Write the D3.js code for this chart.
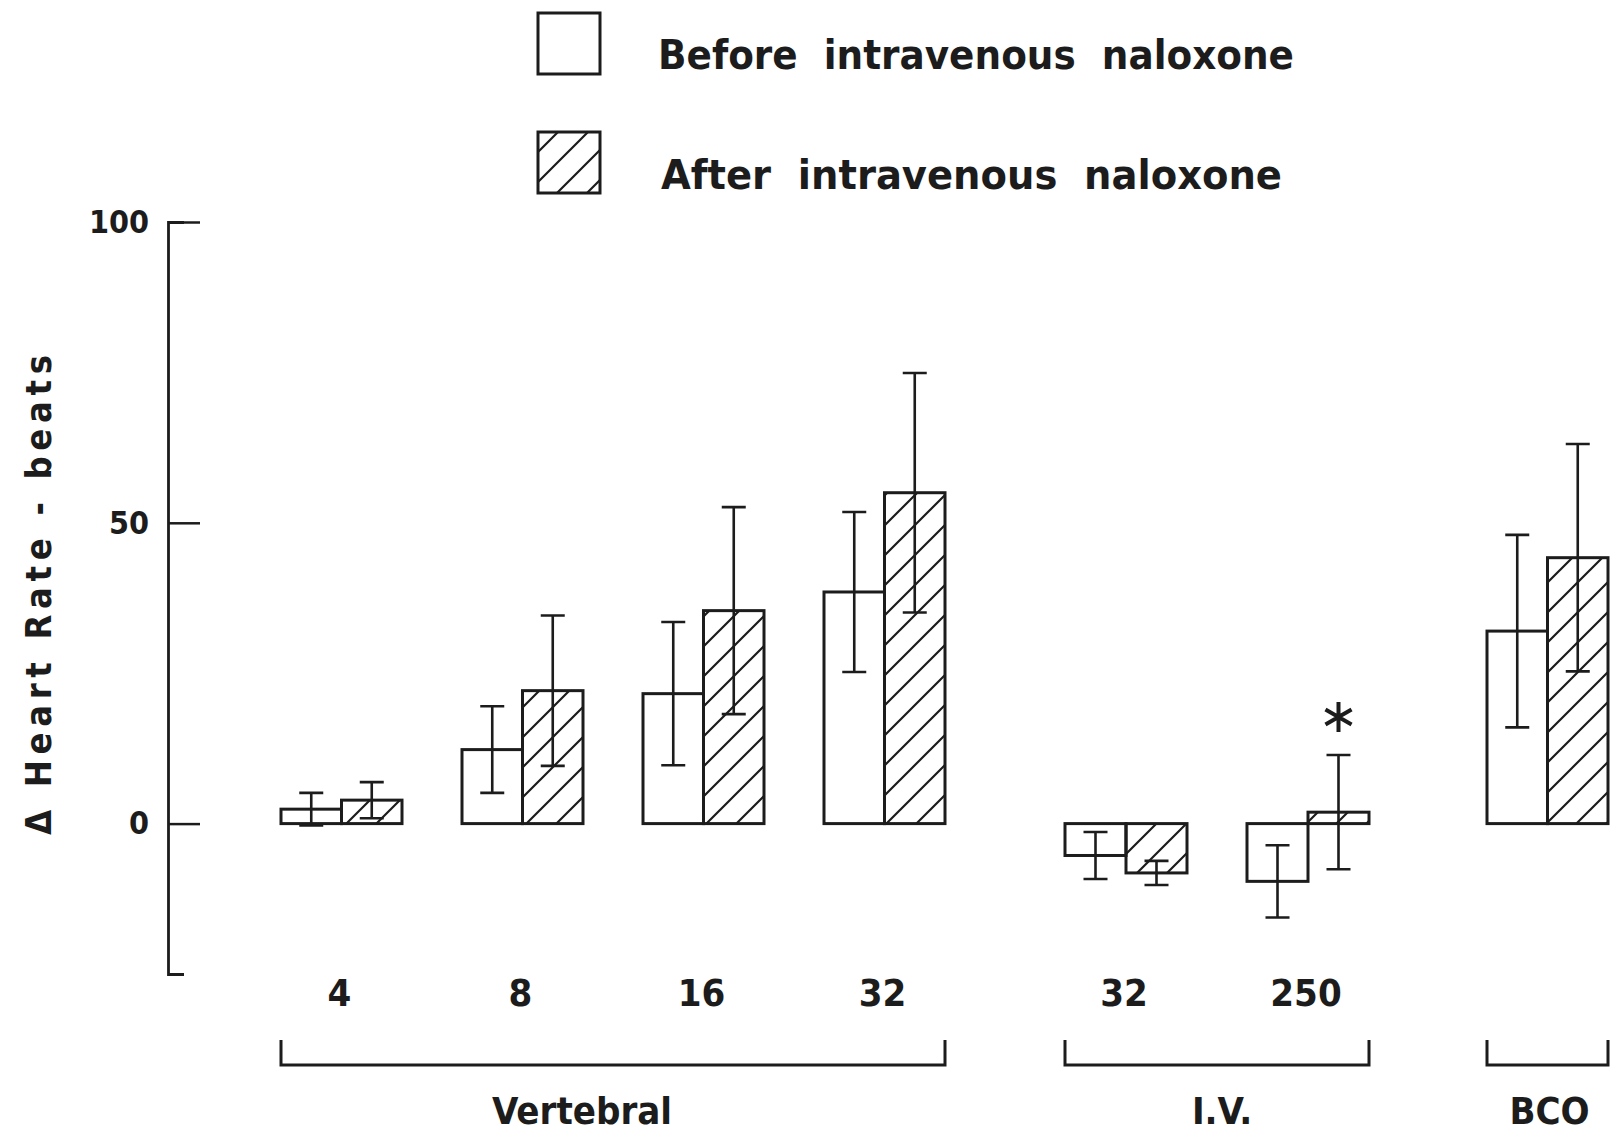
<!DOCTYPE html>
<html>
<head>
<meta charset="utf-8">
<script src="https://cdn.jsdelivr.net/npm/d3@7"></script>
<style>
  html, body { margin: 0; padding: 0; background: #fff; }
  svg { display: block; }
  text {
    font-family: 'Liberation Sans Narrow', 'DejaVu Sans Condensed', 'Arial Narrow', sans-serif;
    font-weight: bold;
    fill: #1c1c1c;
  }
</style>
</head>
<body>
<svg id="chart" width="1613" height="1134"></svg>
<script>
// ---- data ----
const doses      = ["4", "8", "16", "32", "32", "250", ""];
const routes     = ["Vertebral", "Vertebral", "Vertebral", "Vertebral", "I.V.", "I.V.", "BCO"];
const sections   = ["Vertebral", "I.V.", "BCO"];
const beforeMean = [2.4, 12.3, 21.6, 38.5, -5.3, -9.6, 32.0];
const beforeSE   = [2.7, 7.2, 11.9, 13.3, 3.9, 6.0, 16.0];
const afterMean  = [3.9, 22.1, 35.4, 55.0, -8.2, 1.9, 44.2];
const afterSE    = [3.0, 12.5, 17.2, 19.9, 2.0, 9.5, 18.9];
const afterSignificant = [false, false, false, false, false, true, false];
const seriesNames = ["Before  intravenous  naloxone", "After  intravenous  naloxone"];
const yTicks     = [0, 50, 100];
const yLabel     = "\u0394 Heart Rate - beats";

// ---- layout ----
const svg = d3.select("#chart");
const ink = "#1c1c1c";
const axisX = 168;
const y = d3.scaleLinear().domain([-25, 100]).range([974, 222]);

// horizontal extent of each route section (bracket span)
const sectionRange = { "Vertebral": [281, 945], "I.V.": [1065, 1369], "BCO": [1487, 1608] };
const sectionLabelShift = { "Vertebral": -31, "I.V.": 5, "BCO": 2 };
const groupGap = 60;

const groups = doses.map((d, i) => ({
  i, dose: d, route: routes[i],
  series: [
    { key: "before", mean: beforeMean[i], se: beforeSE[i], sig: false },
    { key: "after",  mean: afterMean[i],  se: afterSE[i],  sig: afterSignificant[i] }
  ]
}));

// one band scale per section; each step holds a group plus the gap after it
const sectionScales = {};
sections.forEach(s => {
  const ids = groups.filter(g => g.route === s).map(g => g.i);
  const [x0, x1] = sectionRange[s];
  sectionScales[s] = d3.scaleBand().domain(ids).range([x0, x1 + groupGap]).padding(0);
});
const groupX = g => sectionScales[g.route](g.i);
const groupW = g => sectionScales[g.route].step() - groupGap;

// ---- hatch pattern ----
const defs = svg.append("defs");
const pat = defs.append("pattern").attr("id", "hatch")
  .attr("patternUnits", "userSpaceOnUse").attr("width", 30).attr("height", 30);
pat.append("path")
  .attr("d", "M-6,6 L6,-6 M0,30 L30,0 M24,36 L36,24")
  .attr("stroke", ink).attr("stroke-width", 2.2).attr("fill", "none");

// ---- y axis ----
const yAxis = d3.axisLeft(y).tickValues(yTicks)
  .tickSizeInner(-32).tickSizeOuter(-16).tickPadding(19)
  .tickFormat(d3.format("d"));
const gy = svg.append("g").attr("transform", `translate(${axisX},0)`).call(yAxis);
gy.select(".domain").attr("stroke", ink).attr("stroke-width", 2.8).attr("fill", "none");
gy.selectAll(".tick line").attr("stroke", ink).attr("stroke-width", 2.5);
gy.selectAll(".tick text").attr("font-size", 32)
  .style("font-family", "'Liberation Sans Narrow','DejaVu Sans Condensed',sans-serif")
  .style("font-weight", "bold").attr("fill", ink);
gy.attr("font-family", null).attr("font-size", null);

svg.append("text")
  .attr("transform", `translate(51,595) rotate(-90)`)
  .attr("text-anchor", "middle")
  .attr("font-size", 36)
  .attr("textLength", 480).attr("lengthAdjust", "spacing")
  .text(yLabel);

// ---- bars ----
const gBars = svg.append("g");
groups.forEach(g => {
  const inner = d3.scaleBand().domain(["before", "after"]).range([0, groupW(g)]);
  g.series.forEach(s => {
    const x0 = groupX(g) + inner(s.key);
    const bw = inner.bandwidth();
    const cx = x0 + bw / 2;
    gBars.append("rect")
      .attr("x", x0).attr("width", bw)
      .attr("y", y(Math.max(0, s.mean)))
      .attr("height", Math.abs(y(s.mean) - y(0)))
      .attr("fill", s.key === "after" ? "url(#hatch)" : "#fff")
      .attr("stroke", ink).attr("stroke-width", 3);
    // error bar (mean ± SE)
    const yt = y(s.mean + s.se), yb = y(s.mean - s.se);
    gBars.append("path")
      .attr("d", `M${cx},${yt}V${yb}M${cx - 12},${yt}H${cx + 12}M${cx - 12},${yb}H${cx + 12}`)
      .attr("stroke", ink).attr("stroke-width", 2.6).attr("fill", "none");
    if (s.sig) {
      gBars.append("path")
        .attr("transform", `translate(${cx},${yt - 38})`)
        .attr("d", d3.symbol(d3.symbolAsterisk, 640)())
        .attr("stroke", ink).attr("stroke-width", 4).attr("fill", "none");
    }
  });
  // dose label
  svg.append("text")
    .attr("x", groupX(g) + groupW(g) / 2 - 2).attr("y", 1006)
    .attr("text-anchor", "middle").attr("font-size", 38)
    .text(g.dose);
});

// ---- section brackets ----
sections.forEach(s => {
  const [x0, x1] = sectionRange[s];
  svg.append("path")
    .attr("d", `M${x0},1040V1065H${x1}V1040`)
    .attr("stroke", ink).attr("stroke-width", 3).attr("fill", "none");
  svg.append("text")
    .attr("x", (x0 + x1) / 2 + sectionLabelShift[s]).attr("y", 1124)
    .attr("text-anchor", "middle").attr("font-size", 38)
    .text(s);
});

// ---- legend ----
const legend = svg.append("g");
const legendRows = [
  { fill: "#fff", boxY: 13, textY: 69, textX: 658, len: 636 },
  { fill: "url(#hatch)", boxY: 132, textY: 189, textX: 661, len: 621 }
];
legendRows.forEach((r, k) => {
  legend.append("rect")
    .attr("x", 538).attr("y", r.boxY).attr("width", 62).attr("height", 61)
    .attr("fill", r.fill).attr("stroke", ink).attr("stroke-width", 3);
  legend.append("text")
    .attr("x", r.textX).attr("y", r.textY)
    .attr("font-size", 40)
    .style("white-space", "pre")
    .attr("textLength", r.len).attr("lengthAdjust", "spacingAndGlyphs")
    .text(seriesNames[k]);
});
</script>
</body>
</html>
